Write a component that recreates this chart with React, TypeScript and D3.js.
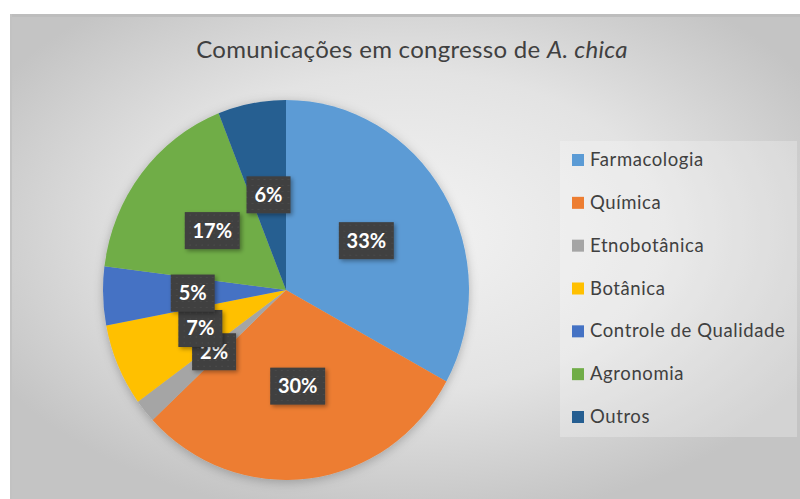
import React from 'react';
import * as d3 from 'd3';

const categories = ['Farmacologia', 'Química', 'Etnobotânica', 'Botânica', 'Controle de Qualidade', 'Agronomia', 'Outros'];
const values = [33, 30, 2, 7, 5, 17, 6];
const colors = ['#5B9BD5', '#ED7D31', '#A5A5A5', '#FFC000', '#4472C4', '#70AD47', '#255E91'];

const W = 800;
const H = 499;
const cx = 286;
const cy = 290;
const radius = 183;
const yStretch = 190 / 183; // the source picture is slightly taller than wide

const App = () => {
    const total = d3.sum(values);
    const pie = d3.pie<number>().sort(null).value(d => d);
    const arcs = pie(values);
    const arcGen = d3.arc<d3.PieArcDatum<number>>().innerRadius(0).outerRadius(radius);
    const labelArc = d3.arc<d3.PieArcDatum<number>>().innerRadius(radius * 0.51).outerRadius(radius * 0.51);

    // legend rows
    const legendY = d3.scalePoint<string>().domain(categories).range([160, 417]);

    const font = 'Lato, "Open Sans", sans-serif';

    return (
        <svg width={W} height={H} style={{ position: 'absolute', left: 0, top: 0 }}>
            <defs>
                <radialGradient id="bg" cx="50%" cy="45%" r="60%">
                    <stop offset="0%" stopColor="#f3f3f3" />
                    <stop offset="55%" stopColor="#e3e3e3" />
                    <stop offset="100%" stopColor="#c4c4c4" />
                </radialGradient>
                <filter id="pieShadow" x="-20%" y="-20%" width="140%" height="140%">
                    <feDropShadow dx="0" dy="2" stdDeviation="5" floodColor="#000" floodOpacity="0.25" />
                </filter>
                <filter id="boxShadow" x="-30%" y="-30%" width="160%" height="160%">
                    <feDropShadow dx="2" dy="2" stdDeviation="2" floodColor="#000" floodOpacity="0.35" />
                </filter>
                <pattern id="dots" width="6" height="6" patternUnits="userSpaceOnUse">
                    <rect width="6" height="6" fill="#3f3f3f" />
                    <rect x="1" y="2" width="2" height="1" fill="#4b4b4b" />
                </pattern>
            </defs>
            <rect x={0} y={0} width={W} height={H} fill="#fff" />
            <rect x={10} y={14} width={W - 10} height={H - 14} fill="url(#bg)" />
            <rect x={10} y={14} width={W - 10} height={3} fill="#bdbdbd" />
            <rect x={10} y={14} width={2} height={H - 14} fill="#c2c2c2" />

            <text x={412} y={58} textAnchor="middle" fontFamily={font} fontSize={24} fill="#404040" letterSpacing={0.3}>
                Comunicações em congresso de <tspan fontStyle="italic">A. chica</tspan>
            </text>

            <g transform={`translate(${cx},${cy})`}>
                <g filter="url(#pieShadow)" transform={`scale(1,${yStretch})`}>
                    {arcs.map((a, i) => (
                        <path key={i} d={arcGen(a) || ''} fill={colors[i]} />
                    ))}
                </g>
                {arcs.map((a, i) => {
                    const [lx, ly] = labelArc.centroid(a);
                    const label = `${Math.round((values[i] / total) * 100)}%`;
                    const bw = label.length * 11 + 22;
                    const bh = 37;
                    return (
                        <g key={`l${i}`} transform={`translate(${lx},${ly * yStretch})`}>
                            <rect x={-bw / 2} y={-bh / 2} width={bw} height={bh} fill="url(#dots)" filter="url(#boxShadow)" />
                            <text x={0} y={7} textAnchor="middle" fontFamily={font} fontWeight="bold" fontSize={20} fill="#fff">
                                {label}
                            </text>
                        </g>
                    );
                })}
            </g>

            <rect x={560} y={141} width={237} height={296} fill="#fff" fillOpacity={0.25} />
            {categories.map((c, i) => (
                <g key={c} transform={`translate(572,${legendY(c)})`}>
                    <rect x={0} y={-6} width={12} height={12} fill={colors[i]} />
                    <text x={18} y={6} fontFamily={font} fontSize={18.5} letterSpacing={0.6} fill="#404040">{c}</text>
                </g>
            ))}
        </svg>
    );
};

export default App;
